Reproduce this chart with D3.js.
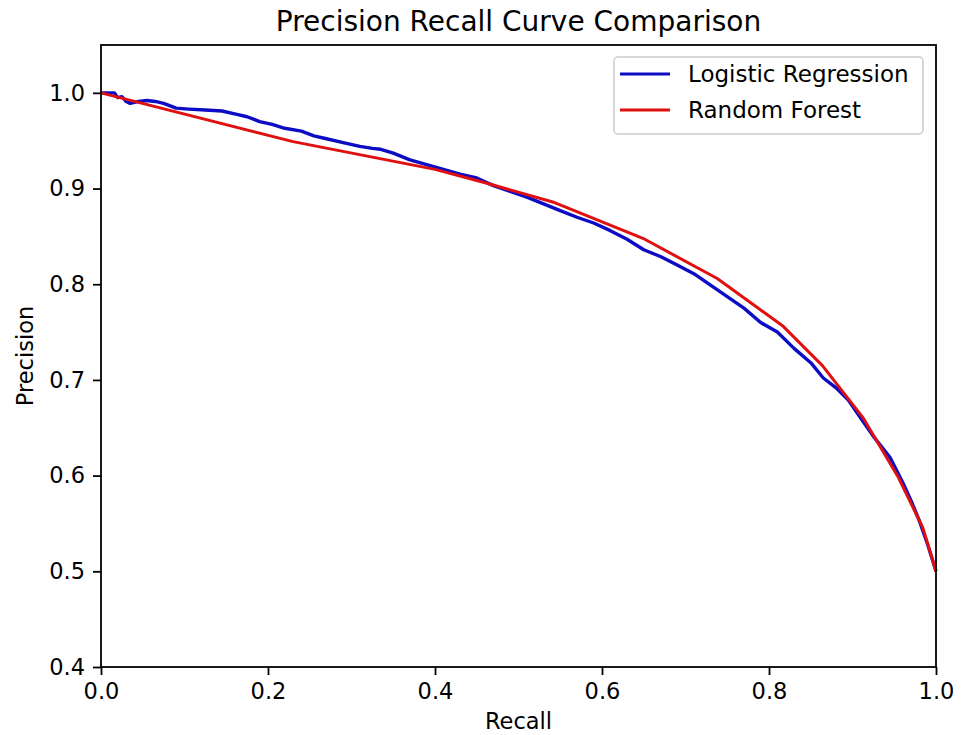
<!DOCTYPE html>
<html><head><meta charset="utf-8">
<script src="https://cdn.jsdelivr.net/npm/d3@7"></script>
<style>
html,body{margin:0;padding:0;background:#fff;}
text{font-family:"DejaVu Sans",sans-serif;fill:#000;}
</style></head>
<body>
<svg id="chart" width="964" height="735"></svg>
<script>
const titleText = "Precision Recall Curve Comparison";
const xLabel = "Recall";
const yLabel = "Precision";
const seriesNames = ["Logistic Regression", "Random Forest"];
const seriesColors = ["#0c0cc4", "#e01010"];
const xTicks = [0.0, 0.2, 0.4, 0.6, 0.8, 1.0];
const yTicks = [0.4, 0.5, 0.6, 0.7, 0.8, 0.9, 1.0];

// Logistic Regression: recall / precision
const lrRecall = [0,0.016,0.02,0.025,0.03,0.035,0.045,0.055,0.065,0.075,0.09,0.105,0.125,0.145,0.16,0.175,0.19,0.205,0.22,0.24,0.255,0.27,0.29,0.31,0.325,0.335,0.35,0.37,0.39,0.41,0.43,0.45,0.47,0.49,0.51,0.53,0.55,0.57,0.59,0.61,0.63,0.65,0.67,0.69,0.71,0.73,0.75,0.77,0.79,0.81,0.83,0.85,0.865,0.88,0.895,0.91,0.925,0.945,0.96,0.97,0.98,0.99,1.0];
const lrPrecision = [1.000,1.000,0.995,0.996,0.991,0.989,0.991,0.992,0.991,0.989,0.984,0.983,0.982,0.981,0.978,0.975,0.970,0.967,0.963,0.960,0.955,0.952,0.948,0.944,0.942,0.941,0.937,0.930,0.925,0.920,0.915,0.911,0.903,0.897,0.891,0.884,0.877,0.870,0.864,0.856,0.847,0.836,0.829,0.820,0.811,0.799,0.787,0.775,0.760,0.750,0.733,0.718,0.702,0.692,0.679,0.660,0.641,0.619,0.593,0.574,0.553,0.528,0.500];

// Random Forest: recall / precision
const rfRecall = [0,0.23,0.4,0.46,0.541,0.649,0.738,0.817,0.864,0.913,0.955,0.984,1.0];
const rfPrecision = [1.0,0.949,0.920,0.906,0.886,0.848,0.806,0.756,0.715,0.660,0.598,0.546,0.500];

const svg = d3.select("#chart");
const pL = 101, pR = 936, pT = 45, pB = 667;
const x = d3.scaleLinear().domain([0, 1]).range([pL, pR]);
const y = d3.scaleLinear().domain([0.4, 1.05]).range([pB, pT]);

const fs = 22.5;

// title
svg.append("text").attr("x", (pL + pR) / 2).attr("y", 31)
  .attr("text-anchor", "middle").style("font-size", "28px").text(titleText);

// lines
const line = d3.line().x(d => x(d[0])).y(d => y(d[1]));
const series = [
  d3.zip(lrRecall, lrPrecision),
  d3.zip(rfRecall, rfPrecision)
];
series.forEach((s, i) => {
  svg.append("path").datum(s).attr("d", line)
    .attr("fill", "none").attr("stroke", seriesColors[i])
    .attr("stroke-width", i === 0 ? 3.4 : 3).attr("stroke-linejoin", "round");
});

// frame
svg.append("rect").attr("x", pL).attr("y", pT).attr("width", pR - pL).attr("height", pB - pT)
  .attr("fill", "none").attr("stroke", "#000").attr("stroke-width", 1.8);

// axes
const xAxis = d3.axisBottom(x).tickValues(xTicks).tickFormat(d3.format(".1f")).tickSize(8).tickPadding(8);
const yAxis = d3.axisLeft(y).tickValues(yTicks).tickFormat(d3.format(".1f")).tickSize(8).tickPadding(8);
const gx = svg.append("g").attr("transform", `translate(0,${pB})`).call(xAxis);
const gy = svg.append("g").attr("transform", `translate(${pL},0)`).call(yAxis);
[gx, gy].forEach(g => {
  g.select(".domain").remove();
  g.selectAll(".tick line").attr("stroke", "#000").attr("stroke-width", 1.8);
  g.selectAll(".tick text").style("font-size", fs + "px").style("font-family", "DejaVu Sans").attr("fill", "#000");
});

// axis labels
svg.append("text").attr("x", (pL + pR) / 2).attr("y", 729)
  .attr("text-anchor", "middle").style("font-size", fs + "px").text(xLabel);
svg.append("text").attr("transform", `translate(33,${(pT + pB) / 2}) rotate(-90)`)
  .attr("text-anchor", "middle").style("font-size", fs + "px").text(yLabel);

// legend
const lg = svg.append("g");
lg.append("rect").attr("x", 614).attr("y", 57).attr("width", 309).attr("height", 77)
  .attr("rx", 4).attr("fill", "#fff").attr("fill-opacity", 0.8).attr("stroke", "#cccccc").attr("stroke-width", 1.5);
seriesNames.forEach((n, i) => {
  const yy = 74 + i * 36;
  lg.append("line").attr("x1", 620).attr("x2", 670).attr("y1", yy).attr("y2", yy)
    .attr("stroke", seriesColors[i]).attr("stroke-width", 3);
  lg.append("text").attr("x", 688).attr("y", yy + 8).style("font-size", "23px").text(n);
});
</script>
</body></html>
